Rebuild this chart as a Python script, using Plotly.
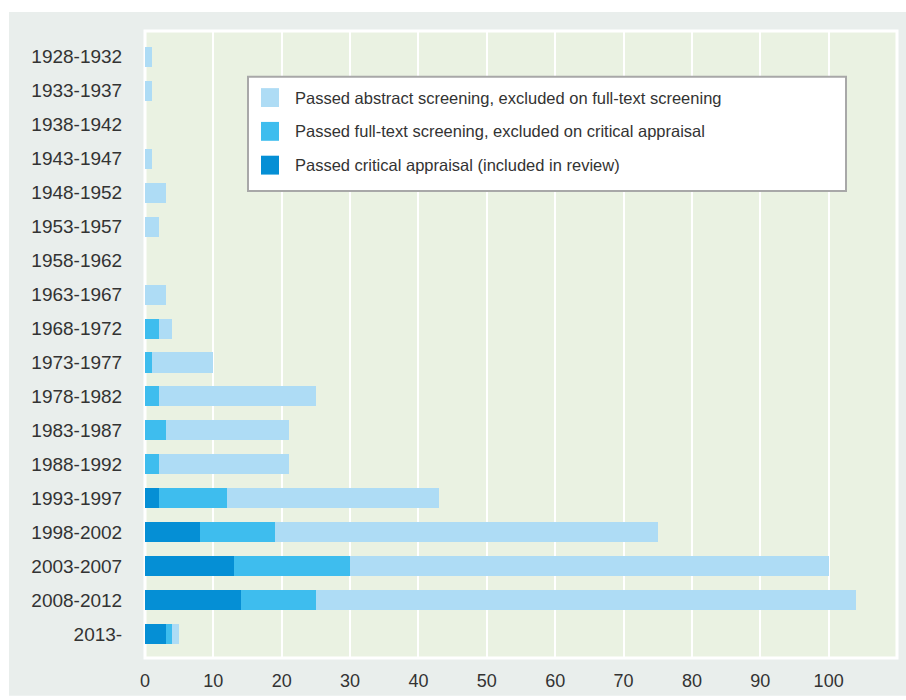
import plotly.graph_objects as go

periods = ["1928-1932", "1933-1937", "1938-1942", "1943-1947", "1948-1952", "1953-1957",
           "1958-1962", "1963-1967", "1968-1972", "1973-1977", "1978-1982", "1983-1987",
           "1988-1992", "1993-1997", "1998-2002", "2003-2007", "2008-2012", "2013-"]
included = [0, 0, 0, 0, 0, 0, 0, 0, 0, 0, 0, 0, 0, 2, 8, 13, 14, 3]
fulltext_excluded = [0, 0, 0, 0, 0, 0, 0, 0, 2, 1, 2, 3, 2, 10, 11, 17, 11, 1]
abstract_excluded = [1, 1, 0, 1, 3, 2, 0, 3, 2, 9, 23, 18, 19, 31, 56, 70, 79, 1]
x_ticks = [0, 10, 20, 30, 40, 50, 60, 70, 80, 90, 100]

names = ["Passed abstract screening, excluded on full-text screening",
         "Passed full-text screening, excluded on critical appraisal",
         "Passed critical appraisal (included in review)"]
colors = ["#aedcf5", "#3ebdee", "#058fd5"]

W, H = 906, 700
L, R, T, B = 145, 9, 31, 38
pw, ph = W - L - R, H - T - B

def px(x):
    return (x - L) / pw

def py(y):
    return (H - B - y) / ph

fig = go.Figure()
series = [(included, names[2], colors[2]),
          (fulltext_excluded, names[1], colors[1]),
          (abstract_excluded, names[0], colors[0])]
for vals, nm, col in series:
    fig.add_trace(go.Bar(y=periods, x=vals, orientation="h", name=nm,
                         marker=dict(color=col, line=dict(width=0)),
                         showlegend=False))

shapes = [
    dict(type="rect", xref="paper", yref="paper", x0=px(9), x1=px(906), y0=py(700), y1=py(12),
         fillcolor="#e9eeec", line=dict(width=0), layer="below"),
    dict(type="rect", xref="paper", yref="paper", x0=0, x1=1, y0=0, y1=1,
         fillcolor="#eaf2e2", line=dict(color="white", width=3), layer="below"),
    # legend box
    dict(type="rect", xref="paper", yref="paper", x0=px(248), x1=px(846), y0=py(192), y1=py(77),
         fillcolor="white", line=dict(color="#a8a8a8", width=2), layer="above"),
]
annotations = []
row_centers = [98, 132, 166]
for i, (nm, col) in enumerate(zip(names, colors)):
    cy = row_centers[i]
    shapes.append(dict(type="rect", xref="paper", yref="paper", x0=px(261), x1=px(279),
                       y0=py(cy + 9.5), y1=py(cy - 9.5), fillcolor=col, line=dict(width=0),
                       layer="above"))
    annotations.append(dict(xref="paper", yref="paper", x=px(293), y=py(cy), text=nm,
                            showarrow=False, xanchor="left", yanchor="middle",
                            font=dict(size=16.5, color="#333333", family="Liberation Sans, Arial, sans-serif")))

fig.update_layout(
    width=W, height=H,
    margin=dict(l=L, r=R, t=T, b=B, pad=0),
    paper_bgcolor="white",
    plot_bgcolor="rgba(0,0,0,0)",
    barmode="stack",
    bargap=0.41,
    font=dict(family="Liberation Sans, Arial, sans-serif", size=18, color="#333333"),
    shapes=shapes,
    annotations=annotations,
    xaxis=dict(range=[0, 110], tickvals=x_ticks, showgrid=True, gridcolor="white", gridwidth=2,
               zeroline=False, showline=False, ticks="outside", ticklen=6,
               tickcolor="rgba(0,0,0,0)", tickfont=dict(size=18)),
    yaxis=dict(categoryorder="array", categoryarray=periods, range=[17.70, -0.76],
               showgrid=False, zeroline=False, showline=False, ticks="outside", ticklen=18,
               tickcolor="rgba(0,0,0,0)", tickfont=dict(size=19)),
)

fig.write_html("out.html", config={"displayModeBar": False},
               post_script="document.body.style.margin='0';document.body.style.overflow='hidden';")
